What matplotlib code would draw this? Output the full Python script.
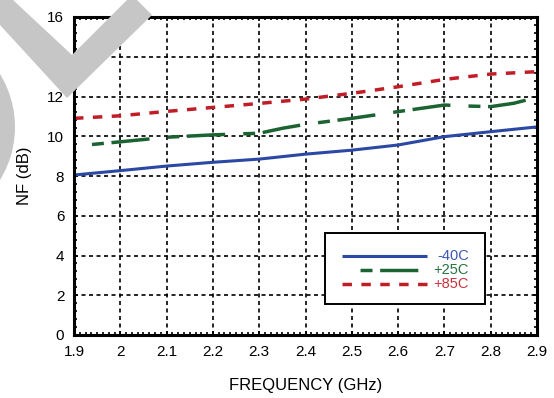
import matplotlib
matplotlib.use("Agg")
import matplotlib.pyplot as plt
from matplotlib.patches import Polygon, Ellipse, Rectangle
from matplotlib.lines import Line2D
from matplotlib.ticker import MultipleLocator

plt.rcParams['font.family'] = ['Liberation Sans', 'DejaVu Sans']
plt.rcParams['lines.scale_dashes'] = False

# data
freq = [1.9, 2.0, 2.1, 2.2, 2.3, 2.4, 2.5, 2.6, 2.7, 2.8, 2.9]
nf_m40 = [8.05, 8.27, 8.5, 8.69, 8.85, 9.1, 9.3, 9.56, 9.98, 10.23, 10.47]
nf_p85 = [10.9, 11.03, 11.25, 11.45, 11.65, 11.87, 12.16, 12.49, 12.86, 13.13, 13.25]
freq_25 = [1.9, 2.0, 2.1, 2.2, 2.3, 2.35, 2.4, 2.5, 2.6, 2.7, 2.75, 2.8, 2.85, 2.9]
nf_p25 = [9.5, 9.72, 9.95, 10.07, 10.15, 10.4, 10.6, 10.9, 11.24, 11.57, 11.52, 11.49, 11.66, 11.96]

labels = ['-40C', '+25C', '+85C']
colors = ['#2b48a4', '#1b6331', '#c01d26']
text_colors = ['#3c58b4', '#2a7040', '#c8323a']

W, H = 554, 398
fig = plt.figure(figsize=(W / 100, H / 100), dpi=100)

# grey watermark behind the chart (pixel coords -> figure fraction)
def px(x, y):
    return (x / W, 1 - y / H)

grey = '#c6c6c6'
check = [(-10, -10), (13, 0), (72, 55), (127, 0), (137, 0), (152, 15), (67, 98), (0, 25), (-10, 20)]
fig.patches.append(Polygon([px(x, y) for x, y in check], closed=True, facecolor=grey,
                           edgecolor='none', transform=fig.transFigure, zorder=0))
fig.patches.append(Ellipse(px(-86, 127), 2 * 101 / W, 2 * 101 / H, facecolor=grey,
                           edgecolor='none', transform=fig.transFigure, zorder=0))

ax = fig.add_axes([74 / W, 1 - 335 / H, 463 / W, 318 / H])
ax.set_facecolor('white')

ax.plot(freq, nf_m40, color=colors[0], lw=2.2, solid_capstyle='butt')
green_ls = (41.6, (8.6, 5.5, 27.5, 13.0))
ax.plot(freq_25, nf_p25, color=colors[1], lw=2.5, linestyle=green_ls, dash_capstyle='butt')
red_ls = (0, (6.8, 6.8))
ax.plot(freq, nf_p85, color=colors[2], lw=2.5, linestyle=red_ls, dash_capstyle='butt')

ax.set_xlim(1.9, 2.9)
ax.set_ylim(0, 16)
ax.set_xticks([1.9, 2.0, 2.1, 2.2, 2.3, 2.4, 2.5, 2.6, 2.7, 2.8, 2.9])
ax.set_xticklabels(['1.9', '2', '2.1', '2.2', '2.3', '2.4', '2.5', '2.6', '2.7', '2.8', '2.9'])
ax.set_yticks(range(0, 17, 2))
ax.xaxis.set_minor_locator(MultipleLocator(0.0125))
ax.yaxis.set_minor_locator(MultipleLocator(0.4))

ax.grid(True, which='major', color='black', lw=1.2, linestyle=(0, (2.9, 2.5)))
ax.set_axisbelow(True)
ax.tick_params(which='both', direction='in', top=True, right=True, colors='black',
               labelsize=11, width=1.2)
ax.tick_params(which='major', length=3, pad=7)
ax.tick_params(which='minor', length=2)
for s in ax.spines.values():
    s.set_linewidth(2.2)

ax.set_xlabel('FREQUENCY (GHz)', fontsize=12, labelpad=14)
ax.set_ylabel('NF (dB)', fontsize=12, labelpad=11)

# legend box drawn by hand so the labels sit right-aligned like the original
ax.add_patch(Rectangle((0.542, 0.0975), 0.346, 0.2235, transform=ax.transAxes,
                       facecolor='white', edgecolor='black', lw=1.4, zorder=5))
styles = ['-', green_ls, red_ls]
widths = [2.2, 2.5, 2.5]
rows = [0.248, 0.204, 0.160]
for lab, c, tc, st, w, yy in zip(labels, colors, text_colors, styles, widths, rows):
    ax.add_line(Line2D([0.579, 0.762], [yy, yy], transform=ax.transAxes, color=c, lw=w,
                       linestyle=st, dash_capstyle='butt', solid_capstyle='butt', zorder=6))
    ax.text(0.853, yy, lab, transform=ax.transAxes, color=tc, fontsize=10.5,
            ha='right', va='center', zorder=6)

fig.savefig('out.png', dpi=100)
